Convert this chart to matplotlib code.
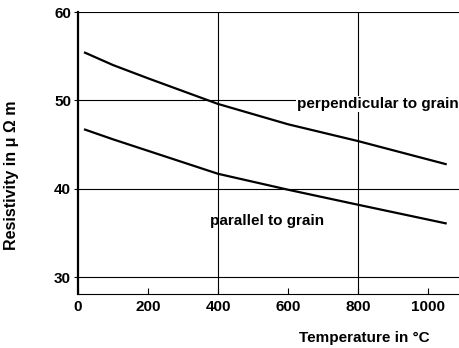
import matplotlib
matplotlib.use("Agg")
import matplotlib.pyplot as plt

# values
temps = [20, 100, 200, 400, 600, 800, 1050]
perpendicular = [55.4, 54.0, 52.5, 49.6, 47.3, 45.4, 42.8]
parallel = [46.7, 45.6, 44.3, 41.7, 39.9, 38.2, 36.1]
x_ticks = [0, 200, 400, 600, 800, 1000]
y_ticks = [30, 40, 50, 60]

plt.rcParams['font.family'] = ['Liberation Sans Narrow', 'Liberation Sans', 'DejaVu Sans']
plt.rcParams['font.weight'] = 'bold'

fig = plt.figure(figsize=(4.6, 3.48), dpi=100)
ax = fig.add_axes([0.1696, 0.155, 0.8304, 0.8105])
ax.set_xlim(0, 1091)
ax.set_ylim(28.1, 60)

# grid lines drawn by hand at the tick positions
for y in y_ticks:
    ax.axhline(y, color='black', lw=0.8, zorder=1)
for x in [400, 800]:
    ax.axvline(x, color='black', lw=0.8, zorder=1)

ax.plot(temps, perpendicular, color='black', lw=1.6, zorder=3)
ax.plot(temps, parallel, color='black', lw=1.6, zorder=3)

ax.text(626, 49.6, 'perpendicular to grain', fontsize=11, va='center', ha='left',
        bbox=dict(facecolor='white', edgecolor='none', pad=1), zorder=4)
ax.text(377, 36.4, 'parallel to grain', fontsize=11, va='center', ha='left', zorder=4)

# spines
for side in ['top', 'right']:
    ax.spines[side].set_visible(False)
ax.spines['left'].set_linewidth(1.6)
ax.spines['bottom'].set_linewidth(0.8)

ax.set_xticks(x_ticks)
ax.set_yticks(y_ticks)
ax.tick_params(axis='both', direction='out', length=3, width=0.8, labelsize=11, pad=2)
ax.tick_params(axis='x', direction='in', length=4, pad=4)

ax.set_xlabel('Temperature in °C', fontsize=11, fontweight='bold')
ax.xaxis.set_label_coords(0.75, -0.13)
ax.set_ylabel('Resistivity in \u03bc \u03a9 m', fontsize=11.5, fontweight='bold')
ax.yaxis.set_label_coords(-0.155, 0.42)

fig.savefig('out.png', dpi=100)
